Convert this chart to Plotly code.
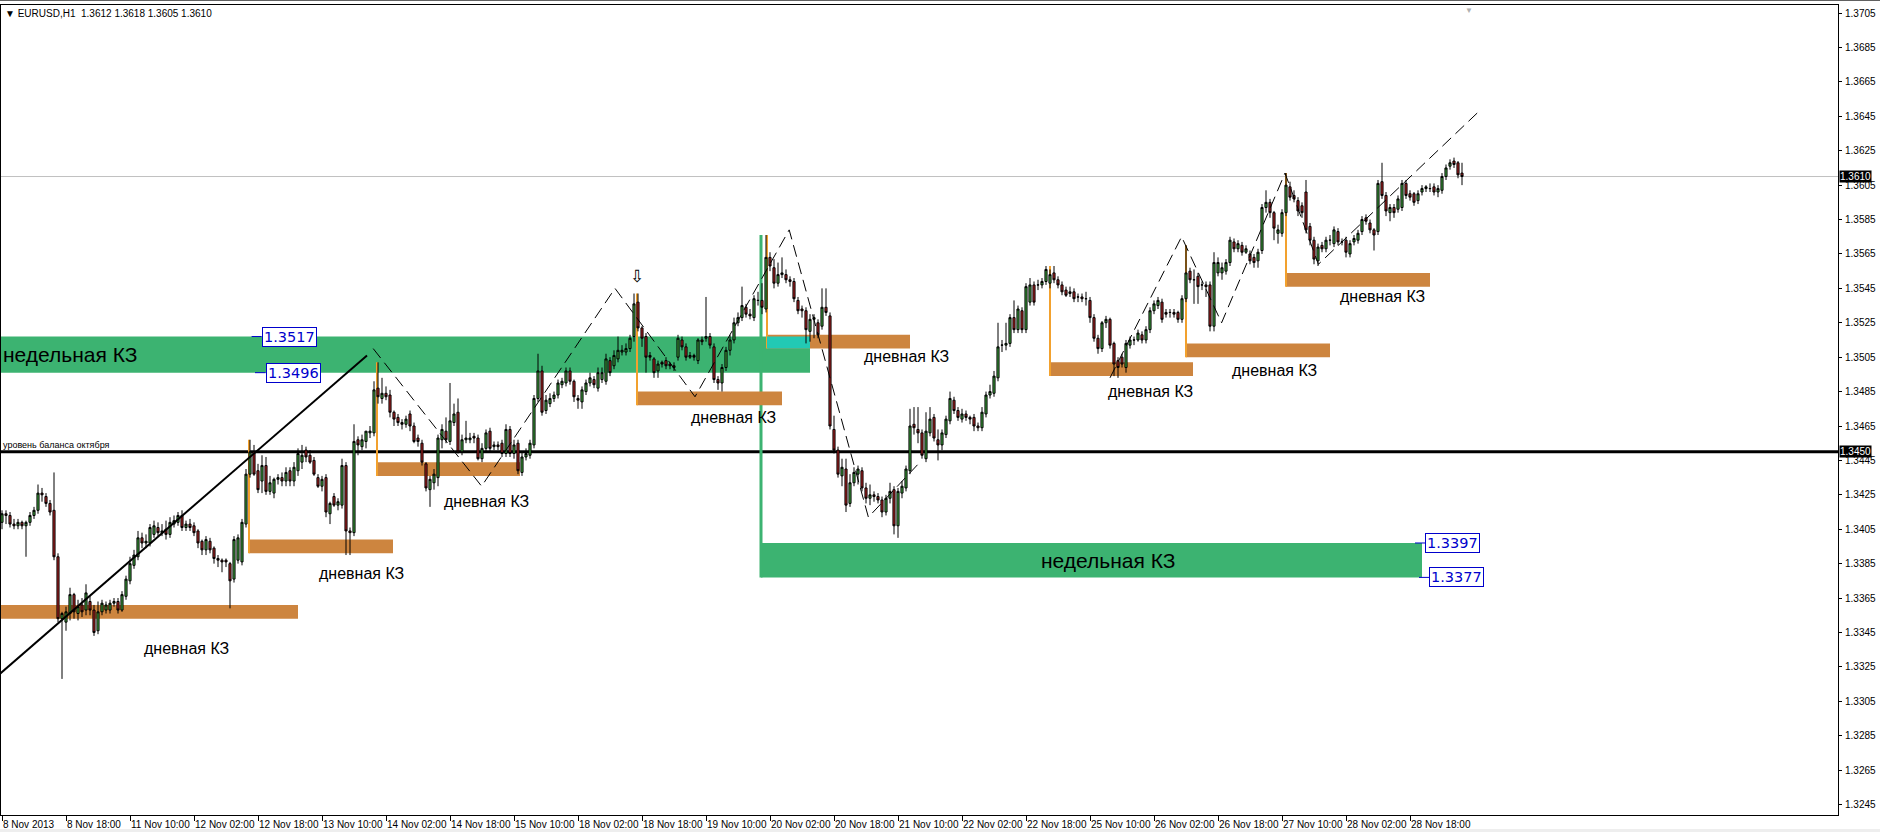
import plotly.graph_objects as go

# ---------------- data ----------------
tick_labels = ["8 Nov 2013", "8 Nov 18:00", "11 Nov 10:00", "12 Nov 02:00", "12 Nov 18:00",
               "13 Nov 10:00", "14 Nov 02:00", "14 Nov 18:00", "15 Nov 10:00", "18 Nov 02:00",
               "18 Nov 18:00", "19 Nov 10:00", "20 Nov 02:00", "20 Nov 18:00", "21 Nov 10:00",
               "22 Nov 02:00", "22 Nov 18:00", "25 Nov 10:00", "26 Nov 02:00", "26 Nov 18:00",
               "27 Nov 10:00", "28 Nov 02:00", "28 Nov 18:00"]
bars_per_label = 16

price_ticks = ["1.3245", "1.3265", "1.3285", "1.3305", "1.3325", "1.3345", "1.3365", "1.3385",
               "1.3405", "1.3425", "1.3445", "1.3465", "1.3485", "1.3505", "1.3525", "1.3545",
               "1.3565", "1.3585", "1.3605", "1.3625", "1.3645", "1.3665", "1.3685", "1.3705"]

opens = [1.3409,1.3414,1.3413,1.3408,1.3407,1.3409,1.3407,1.3409,1.3413,1.3416,
1.3426,1.3424,1.3420,1.3416,1.3389,1.3353,1.3351,1.3356,1.3367,1.3356,
1.3361,1.3358,1.3363,1.3358,1.3346,1.3357,1.3358,1.3358,1.3362,1.3363,
1.3358,1.3366,1.3375,1.3384,1.3389,1.3400,1.3397,1.3397,1.3402,1.3406,
1.3403,1.3405,1.3402,1.3408,1.3409,1.3413,1.3406,1.3408,1.3407,1.3404,
1.3398,1.3393,1.3398,1.3394,1.3388,1.3387,1.3387,1.3385,1.3376,1.3387,
1.3386,1.3408,1.3437,1.3450,1.3439,1.3433,1.3442,1.3427,1.3426,1.3434,
1.3435,1.3433,1.3439,1.3433,1.3439,1.3444,1.3451,1.3448,1.3445,1.3435,
1.3430,1.3435,1.3414,1.3424,1.3419,1.3419,1.3442,1.3404,1.3403,1.3457,
1.3453,1.3456,1.3461,1.3461,1.3487,1.3481,1.3484,1.3483,1.3473,1.3470,
1.3467,1.3466,1.3472,1.3465,1.3458,1.3455,1.3443,1.3428,1.3432,1.3435,
1.3457,1.3462,1.3456,1.3467,1.3473,1.3450,1.3457,1.3457,1.3459,1.3458,
1.3446,1.3452,1.3462,1.3453,1.3454,1.3455,1.3449,1.3463,1.3449,1.3455,
1.3438,1.3447,1.3448,1.3454,1.3481,1.3497,1.3474,1.3478,1.3481,1.3483,
1.3489,1.3490,1.3497,1.3491,1.3481,1.3479,1.3485,1.3490,1.3492,1.3487,
1.3492,1.3491,1.3503,1.3500,1.3504,1.3508,1.3508,1.3510,1.3517,1.3537,
1.3522,1.3517,1.3506,1.3504,1.3497,1.3502,1.3503,1.3501,1.3500,1.3505,
1.3515,1.3511,1.3505,1.3506,1.3503,1.3515,1.3516,1.3517,1.3511,1.3492,
1.3490,1.3499,1.3509,1.3515,1.3525,1.3528,1.3534,1.3530,1.3528,1.3538,
1.3538,1.3533,1.3563,1.3557,1.3548,1.3553,1.3553,1.3550,1.3549,1.3538,
1.3533,1.3532,1.3520,1.3527,1.3525,1.3523,1.3534,1.3529,1.3463,1.3451,
1.3436,1.3440,1.3420,1.3432,1.3437,1.3439,1.3429,1.3423,1.3425,1.3424,
1.3422,1.3415,1.3423,1.3428,1.3407,1.3426,1.3429,1.3439,1.3466,1.3463,
1.3461,1.3446,1.3461,1.3470,1.3457,1.3454,1.3460,1.3468,1.3480,1.3474,
1.3469,1.3472,1.3470,1.3470,1.3465,1.3464,1.3472,1.3483,1.3484,1.3493,
1.3512,1.3512,1.3513,1.3528,1.3521,1.3532,1.3521,1.3537,1.3547,1.3547,
1.3547,1.3549,1.3548,1.3554,1.3550,1.3547,1.3544,1.3542,1.3543,1.3540,
1.3540,1.3539,1.3538,1.3528,1.3516,1.3510,1.3525,1.3527,1.3513,1.3503,
1.3505,1.3499,1.3512,1.3515,1.3515,1.3518,1.3515,1.3521,1.3532,1.3535,
1.3537,1.3531,1.3531,1.3531,1.3531,1.3527,1.3539,1.3555,1.3550,1.3552,
1.3547,1.3547,1.3547,1.3523,1.3554,1.3554,1.3555,1.3560,1.3572,1.3568,
1.3570,1.3566,1.3565,1.3563,1.3561,1.3567,1.3592,1.3595,1.3589,1.3577,
1.3577,1.3589,1.3604,1.3599,1.3596,1.3593,1.3601,1.3581,1.3573,1.3561,
1.3570,1.3568,1.3573,1.3571,1.3578,1.3572,1.3573,1.3565,1.3572,1.3573,
1.3578,1.3586,1.3583,1.3579,1.3578,1.3607,1.3599,1.3589,1.3592,1.3591,
1.3592,1.3606,1.3600,1.3600,1.3596,1.3601,1.3603,1.3603,1.3604,1.3601,
1.3602,1.3610,1.3616,1.3619,1.3618,1.3612]

highs = [1.3416,1.3416,1.3415,1.3411,1.3411,1.3410,1.3410,1.3415,1.3418,1.3431,
1.3429,1.3426,1.3422,1.3438,1.3391,1.3357,1.3360,1.3371,1.3368,1.3364,
1.3365,1.3373,1.3366,1.3361,1.3363,1.3364,1.3363,1.3364,1.3365,1.3365,
1.3369,1.3378,1.3389,1.3393,1.3404,1.3403,1.3402,1.3408,1.3410,1.3409,
1.3408,1.3410,1.3412,1.3413,1.3415,1.3416,1.3410,1.3411,1.3409,1.3405,
1.3399,1.3401,1.3400,1.3395,1.3390,1.3388,1.3388,1.3386,1.3401,1.3402,
1.3411,1.3440,1.3457,1.3454,1.3443,1.3448,1.3447,1.3436,1.3435,1.3437,
1.3438,1.3441,1.3441,1.3444,1.3452,1.3454,1.3453,1.3451,1.3447,1.3437,
1.3436,1.3437,1.3421,1.3426,1.3423,1.3446,1.3444,1.3406,1.3466,1.3459,
1.3460,1.3462,1.3465,1.3491,1.3502,1.3493,1.3488,1.3486,1.3474,1.3472,
1.3469,1.3471,1.3474,1.3467,1.3460,1.3457,1.3444,1.3436,1.3440,1.3460,
1.3466,1.3470,1.3490,1.3478,1.3481,1.3460,1.3468,1.3461,1.3461,1.3460,
1.3455,1.3463,1.3464,1.3456,1.3456,1.3457,1.3466,1.3465,1.3457,1.3457,
1.3450,1.3452,1.3457,1.3483,1.3507,1.3500,1.3483,1.3484,1.3485,1.3492,
1.3493,1.3499,1.3499,1.3492,1.3483,1.3488,1.3492,1.3496,1.3494,1.3499,
1.3499,1.3507,1.3505,1.3509,1.3517,1.3512,1.3513,1.3518,1.3542,1.3542,
1.3523,1.3519,1.3508,1.3505,1.3503,1.3503,1.3505,1.3502,1.3502,1.3518,
1.3517,1.3513,1.3508,1.3507,1.3516,1.3517,1.3540,1.3519,1.3513,1.3494,
1.3501,1.3511,1.3518,1.3528,1.3531,1.3546,1.3536,1.3533,1.3541,1.3543,
1.3548,1.3576,1.3566,1.3562,1.3560,1.3563,1.3556,1.3552,1.3551,1.3540,
1.3535,1.3534,1.3530,1.3530,1.3527,1.3545,1.3545,1.3531,1.3471,1.3453,
1.3446,1.3446,1.3437,1.3441,1.3442,1.3441,1.3432,1.3431,1.3427,1.3426,
1.3424,1.3425,1.3432,1.3430,1.3429,1.3433,1.3442,1.3475,1.3476,1.3476,
1.3463,1.3473,1.3476,1.3472,1.3463,1.3463,1.3471,1.3485,1.3482,1.3476,
1.3475,1.3474,1.3471,1.3472,1.3467,1.3476,1.3485,1.3489,1.3497,1.3525,
1.3515,1.3525,1.3530,1.3538,1.3535,1.3534,1.3548,1.3551,1.3549,1.3550,
1.3551,1.3558,1.3556,1.3558,1.3552,1.3549,1.3546,1.3546,1.3545,1.3542,
1.3542,1.3543,1.3540,1.3530,1.3518,1.3526,1.3529,1.3528,1.3514,1.3505,
1.3507,1.3515,1.3517,1.3517,1.3521,1.3520,1.3523,1.3534,1.3538,1.3540,
1.3539,1.3533,1.3533,1.3533,1.3532,1.3541,1.3570,1.3557,1.3556,1.3554,
1.3549,1.3549,1.3549,1.3566,1.3563,1.3560,1.3562,1.3575,1.3574,1.3573,
1.3572,1.3570,1.3567,1.3565,1.3568,1.3594,1.3602,1.3597,1.3590,1.3582,
1.3591,1.3612,1.3607,1.3602,1.3598,1.3595,1.3608,1.3583,1.3575,1.3571,
1.3572,1.3575,1.3576,1.3581,1.3580,1.3574,1.3575,1.3573,1.3576,1.3579,
1.3587,1.3588,1.3585,1.3580,1.3608,1.3618,1.3601,1.3594,1.3594,1.3599,
1.3608,1.3608,1.3602,1.3601,1.3602,1.3605,1.3605,1.3606,1.3606,1.3605,
1.3612,1.3617,1.3620,1.3621,1.3619,1.3618]

lows = [1.3405,1.3408,1.3406,1.3405,1.3405,1.3405,1.3389,1.3407,1.3411,1.3414,
1.3421,1.3418,1.3413,1.3387,1.3351,1.3318,1.3346,1.3352,1.3353,1.3352,
1.3354,1.3355,1.3355,1.3343,1.3344,1.3355,1.3356,1.3356,1.3360,1.3356,
1.3357,1.3364,1.3373,1.3382,1.3387,1.3394,1.3394,1.3395,1.3400,1.3401,
1.3401,1.3399,1.3400,1.3406,1.3407,1.3404,1.3404,1.3404,1.3401,1.3394,
1.3390,1.3390,1.3391,1.3385,1.3383,1.3380,1.3383,1.3359,1.3374,1.3385,
1.3384,1.3406,1.3435,1.3436,1.3426,1.3426,1.3425,1.3425,1.3423,1.3431,
1.3430,1.3430,1.3430,1.3430,1.3436,1.3440,1.3444,1.3443,1.3436,1.3429,
1.3427,1.3412,1.3408,1.3418,1.3416,1.3417,1.3390,1.3390,1.3401,1.3448,
1.3451,1.3452,1.3458,1.3459,1.3478,1.3478,1.3480,1.3470,1.3465,1.3465,
1.3463,1.3464,1.3462,1.3455,1.3453,1.3442,1.3427,1.3418,1.3428,1.3430,
1.3452,1.3455,1.3454,1.3465,1.3449,1.3448,1.3455,1.3455,1.3455,1.3445,
1.3444,1.3450,1.3450,1.3451,1.3451,1.3447,1.3447,1.3447,1.3446,1.3437,
1.3436,1.3445,1.3446,1.3452,1.3479,1.3471,1.3472,1.3476,1.3479,1.3481,
1.3487,1.3488,1.3489,1.3479,1.3475,1.3475,1.3483,1.3488,1.3487,1.3485,
1.3490,1.3489,1.3494,1.3498,1.3502,1.3506,1.3506,1.3508,1.3514,1.3520,
1.3511,1.3496,1.3503,1.3493,1.3493,1.3499,1.3498,1.3498,1.3497,1.3503,
1.3509,1.3503,1.3504,1.3503,1.3501,1.3512,1.3514,1.3510,1.3490,1.3486,
1.3485,1.3497,1.3506,1.3513,1.3523,1.3526,1.3528,1.3527,1.3526,1.3535,
1.3530,1.3531,1.3555,1.3545,1.3546,1.3551,1.3548,1.3546,1.3537,1.3530,
1.3528,1.3513,1.3514,1.3516,1.3516,1.3521,1.3529,1.3463,1.3449,1.3435,
1.3430,1.3415,1.3418,1.3430,1.3431,1.3427,1.3420,1.3419,1.3421,1.3420,
1.3412,1.3413,1.3420,1.3402,1.3400,1.3423,1.3427,1.3437,1.3460,1.3455,
1.3446,1.3444,1.3459,1.3456,1.3445,1.3451,1.3458,1.3466,1.3472,1.3468,
1.3467,1.3468,1.3466,1.3462,1.3462,1.3462,1.3470,1.3481,1.3482,1.3491,
1.3508,1.3509,1.3511,1.3519,1.3519,1.3519,1.3519,1.3535,1.3535,1.3544,
1.3545,1.3547,1.3545,1.3548,1.3545,1.3541,1.3540,1.3540,1.3537,1.3537,
1.3537,1.3535,1.3525,1.3514,1.3507,1.3508,1.3522,1.3510,1.3494,1.3493,
1.3499,1.3496,1.3510,1.3512,1.3514,1.3513,1.3513,1.3519,1.3530,1.3533,
1.3525,1.3528,1.3528,1.3528,1.3525,1.3525,1.3537,1.3548,1.3536,1.3536,
1.3544,1.3540,1.3520,1.3520,1.3552,1.3550,1.3553,1.3558,1.3566,1.3566,
1.3564,1.3565,1.3559,1.3557,1.3557,1.3565,1.3589,1.3586,1.3573,1.3571,
1.3575,1.3587,1.3596,1.3595,1.3587,1.3586,1.3577,1.3570,1.3559,1.3558,
1.3566,1.3566,1.3570,1.3569,1.3570,1.3570,1.3563,1.3563,1.3570,1.3571,
1.3576,1.3582,1.3577,1.3567,1.3576,1.3597,1.3587,1.3584,1.3586,1.3589,
1.3590,1.3597,1.3596,1.3593,1.3594,1.3599,1.3601,1.3601,1.3599,1.3598,
1.3600,1.3608,1.3614,1.3615,1.3609,1.3605]

closes = [1.3414,1.3413,1.3408,1.3407,1.3409,1.3407,1.3409,1.3413,1.3416,1.3426,
1.3425,1.3420,1.3415,1.3389,1.3353,1.3356,1.3357,1.3367,1.3357,1.3360,
1.3357,1.3368,1.3358,1.3345,1.3357,1.3362,1.3361,1.3362,1.3363,1.3358,
1.3367,1.3376,1.3385,1.3390,1.3400,1.3397,1.3398,1.3406,1.3407,1.3403,
1.3404,1.3402,1.3409,1.3410,1.3413,1.3406,1.3408,1.3406,1.3403,1.3397,
1.3393,1.3399,1.3393,1.3388,1.3387,1.3386,1.3386,1.3375,1.3399,1.3400,
1.3409,1.3437,1.3450,1.3437,1.3428,1.3442,1.3427,1.3432,1.3434,1.3435,
1.3433,1.3438,1.3433,1.3441,1.3449,1.3448,1.3447,1.3444,1.3437,1.3430,
1.3434,1.3415,1.3420,1.3419,1.3421,1.3442,1.3404,1.3403,1.3456,1.3454,
1.3457,1.3462,1.3462,1.3486,1.3482,1.3484,1.3482,1.3473,1.3469,1.3467,
1.3466,1.3469,1.3465,1.3456,1.3456,1.3444,1.3429,1.3434,1.3437,1.3458,
1.3463,1.3457,1.3468,1.3472,1.3450,1.3457,1.3458,1.3458,1.3458,1.3446,
1.3452,1.3461,1.3452,1.3454,1.3453,1.3449,1.3463,1.3449,1.3454,1.3439,
1.3447,1.3449,1.3455,1.3481,1.3497,1.3473,1.3480,1.3481,1.3483,1.3490,
1.3491,1.3497,1.3491,1.3482,1.3480,1.3486,1.3490,1.3493,1.3489,1.3496,
1.3496,1.3504,1.3496,1.3506,1.3509,1.3509,1.3510,1.3516,1.3536,1.3522,
1.3516,1.3505,1.3505,1.3496,1.3501,1.3501,1.3500,1.3500,1.3499,1.3516,
1.3511,1.3505,1.3506,1.3505,1.3515,1.3514,1.3517,1.3512,1.3492,1.3490,
1.3499,1.3509,1.3515,1.3525,1.3528,1.3535,1.3530,1.3529,1.3539,1.3538,
1.3534,1.3563,1.3558,1.3548,1.3553,1.3554,1.3550,1.3549,1.3539,1.3532,
1.3532,1.3521,1.3527,1.3528,1.3518,1.3534,1.3531,1.3465,1.3451,1.3437,
1.3441,1.3419,1.3432,1.3438,1.3440,1.3429,1.3423,1.3425,1.3424,1.3422,
1.3415,1.3423,1.3427,1.3407,1.3427,1.3430,1.3440,1.3465,1.3464,1.3461,
1.3448,1.3462,1.3469,1.3458,1.3454,1.3461,1.3469,1.3481,1.3474,1.3470,
1.3472,1.3470,1.3469,1.3465,1.3464,1.3473,1.3483,1.3485,1.3494,1.3511,
1.3512,1.3513,1.3528,1.3521,1.3533,1.3521,1.3546,1.3547,1.3537,1.3547,
1.3549,1.3556,1.3553,1.3550,1.3547,1.3543,1.3541,1.3543,1.3539,1.3540,
1.3539,1.3539,1.3528,1.3516,1.3510,1.3525,1.3527,1.3512,1.3501,1.3499,
1.3501,1.3513,1.3515,1.3515,1.3519,1.3515,1.3521,1.3532,1.3536,1.3538,
1.3527,1.3530,1.3531,1.3530,1.3527,1.3539,1.3554,1.3550,1.3550,1.3546,
1.3547,1.3546,1.3523,1.3560,1.3560,1.3557,1.3560,1.3573,1.3568,1.3571,
1.3566,1.3568,1.3561,1.3560,1.3566,1.3592,1.3595,1.3589,1.3580,1.3579,
1.3589,1.3605,1.3598,1.3597,1.3590,1.3589,1.3579,1.3573,1.3562,1.3569,
1.3568,1.3573,1.3573,1.3579,1.3572,1.3572,1.3566,1.3571,1.3574,1.3577,
1.3585,1.3584,1.3579,1.3576,1.3606,1.3599,1.3590,1.3592,1.3589,1.3597,
1.3606,1.3599,1.3598,1.3595,1.3600,1.3603,1.3604,1.3603,1.3601,1.3603,
1.3610,1.3615,1.3618,1.3617,1.3611,1.3610]

# weekly zones (bar index span, price span)
weekly_start = [-1.0, 189.75]
weekly_end = [202.0, 355.0]
weekly_top = [1.3517, 1.3397]
weekly_bottom = [1.3496, 1.3377]
weekly_marker_top = [None, 1.3576]
weekly_text = ["недельная КЗ", "недельная КЗ"]

# daily zones
daily_start = [-1.0, 61.75, 93.75, 158.75, 191.25, 262.0, 296.0, 321.0]
daily_end = [74.0, 97.75, 129.5, 195.0, 227.0, 297.75, 332.0, 357.0]
daily_top = [1.3361, 1.3399, 1.3444, 1.3485, 1.3518, 1.3502, 1.3513, 1.3554]
daily_bottom = [1.3353, 1.3391, 1.3436, 1.3477, 1.3510, 1.3494, 1.3505, 1.3546]
daily_marker_top = [None, 1.3457, 1.3502, 1.3542, 1.3576, 1.3558, 1.3570, 1.3612]
daily_label_x = [46.0, 89.75, 121.0, 182.75, 226.0, 287.0, 318.0, 345.0]
daily_label_y = [1.33359, 1.33795, 1.34213, 1.34702, 1.35053, 1.34850, 1.34975, 1.35402]

# price label objects
label_prices = [1.3517, 1.3496, 1.3397, 1.3377]
label_box_x = [64.9, 65.9, 355.75, 356.8]
label_stub_x = [62.4, 63.25, 353.25, 354.25]

# trend line and zigzags
trend_x = [-0.5, 91.25]
trend_y = [1.3321, 1.3506]
zigzag1_x = [92.8, 119.9, 153.25, 173.25, 196.8, 216.6, 229.9]
zigzag1_y = [1.3510, 1.3430, 1.3545, 1.3482, 1.3579, 1.3412, 1.3445]
zigzag2_x = [277.0, 294.9, 304.9, 320.75, 329.1, 369.75]
zigzag2_y = [1.3493, 1.3575, 1.3525, 1.3612, 1.3559, 1.3649]

balance_level = 1.3450
bid_price = 1.3610
arrow_x, arrow_y = 158.75, 1.3552
header = "▼ EURUSD,H1\u00a0\u00a01.3612 1.3618 1.3605 1.3610"

# ---------------- figure ----------------
n = min(len(opens), len(highs), len(lows), len(closes))
bar_index = list(range(n))

GREEN = "#3CB371"
ORANGE = "#CD853F"
ORANGE_LINE = "#F2A12E"
CYAN = "#22C9B4"
BLUE = "#0000CC"
FONT = "Liberation Sans, Arial, sans-serif"

fig = go.Figure()
fig.add_trace(go.Candlestick(
    x=bar_index, open=opens[:n], high=highs[:n], low=lows[:n], close=closes[:n],
    increasing=dict(line=dict(color="black", width=1), fillcolor="#3FA83F"),
    decreasing=dict(line=dict(color="black", width=1), fillcolor="#B22222"),
    whiskerwidth=0, hoverinfo="skip", showlegend=False))

fig.add_trace(go.Scatter(x=trend_x, y=trend_y, mode="lines",
                         line=dict(color="black", width=2), hoverinfo="skip", showlegend=False))
for zx, zy in [(zigzag1_x, zigzag1_y), (zigzag2_x, zigzag2_y)]:
    fig.add_trace(go.Scatter(x=zx, y=zy, mode="lines",
                             line=dict(color="black", width=1, dash="12px,6px"),
                             hoverinfo="skip", showlegend=False))

shapes = []
annotations = []

# level lines
shapes.append(dict(type="line", xref="paper", yref="y", x0=0, x1=1, y0=bid_price, y1=bid_price,
                   line=dict(color="#C0C0C0", width=1), layer="below"))
shapes.append(dict(type="line", xref="paper", yref="y", x0=0, x1=1, y0=balance_level, y1=balance_level,
                   line=dict(color="black", width=3), layer="below"))

# weekly zones
for s, e, t, b, mt in zip(weekly_start, weekly_end, weekly_top, weekly_bottom, weekly_marker_top):
    shapes.append(dict(type="rect", xref="x", yref="y", x0=s, x1=e, y0=b, y1=t,
                       fillcolor=GREEN, line=dict(width=0), layer="below"))
    if mt is not None:
        shapes.append(dict(type="line", xref="x", yref="y", x0=s, x1=s, y0=mt, y1=b,
                           line=dict(color=GREEN, width=3), layer="below"))

# daily zones
for s, e, t, b, mt in zip(daily_start, daily_end, daily_top, daily_bottom, daily_marker_top):
    shapes.append(dict(type="rect", xref="x", yref="y", x0=s, x1=e, y0=b, y1=t,
                       fillcolor=ORANGE, line=dict(width=0), layer="below"))
    if mt is not None:
        shapes.append(dict(type="line", xref="x", yref="y", x0=s, x1=s, y0=mt, y1=b,
                           line=dict(color=ORANGE_LINE, width=2), layer="below"))
    for ws, we, wt, wb in zip(weekly_start, weekly_end, weekly_top, weekly_bottom):
        ox0, ox1 = max(s, ws), min(e, we)
        oy0, oy1 = max(b, wb), min(t, wt)
        if ox1 > ox0 and oy1 > oy0:
            shapes.append(dict(type="rect", xref="x", yref="y", x0=ox0, x1=ox1, y0=oy0, y1=oy1,
                               fillcolor=CYAN, line=dict(width=0), layer="below"))

for lx, ly in zip(daily_label_x, daily_label_y):
    annotations.append(dict(x=lx, y=ly, xref="x", yref="y", text="дневная КЗ", showarrow=False,
                            font=dict(family=FONT, size=16, color="black"),
                            xanchor="center", yanchor="middle"))

# weekly texts
annotations.append(dict(x=-0.25, y=(weekly_top[0] + weekly_bottom[0]) / 2, xref="x", yref="y",
                        text=weekly_text[0], showarrow=False, xanchor="left", yanchor="middle",
                        font=dict(family=FONT, size=21, color="black")))
annotations.append(dict(x=276.5, y=(weekly_top[1] + weekly_bottom[1]) / 2, xref="x", yref="y",
                        text=weekly_text[1], showarrow=False, xanchor="center", yanchor="middle",
                        font=dict(family=FONT, size=21, color="black")))

# price labels
for p, bx, sx in zip(label_prices, label_box_x, label_stub_x):
    shapes.append(dict(type="line", xref="x", yref="y", x0=sx, x1=bx, y0=p, y1=p,
                       line=dict(color=BLUE, width=1), layer="above"))
    annotations.append(dict(x=bx, y=p, xref="x", yref="y", text=f"{p:.4f}", showarrow=False,
                            xanchor="left", yanchor="middle", bgcolor="white", bordercolor=BLUE,
                            borderwidth=1, borderpad=1,
                            font=dict(family="DejaVu Sans, sans-serif", size=14.5, color=BLUE)))

# balance text
annotations.append(dict(x=-0.25, y=balance_level, xref="x", yref="y", text="уровень баланса октября",
                        showarrow=False, xanchor="left", yanchor="bottom", yshift=0,
                        font=dict(family=FONT, size=9, color="black")))

# arrow
annotations.append(dict(x=arrow_x, y=arrow_y, xref="x", yref="y", text="⇩", showarrow=False,
                        font=dict(family="DejaVu Sans, sans-serif", size=17, color="black"),
                        xanchor="center", yanchor="middle"))

# axis price boxes
for p in [bid_price, balance_level]:
    annotations.append(dict(x=1, y=p, xref="paper", yref="y", text=f"{p:.4f}", showarrow=False,
                            xanchor="left", yanchor="middle", xshift=1, bgcolor="black",
                            borderpad=0, font=dict(family=FONT, size=10, color="white")))

# header
annotations.append(dict(x=0, y=1, xref="paper", yref="paper", text=header, showarrow=False,
                        xanchor="left", yanchor="top", xshift=2, yshift=-1,
                        font=dict(family=FONT, size=10, color="black")))
# chart-shift marker
annotations.append(dict(x=0.7991, y=1, xref="paper", yref="paper", text="▼", showarrow=False,
                        xanchor="center", yanchor="top", yshift=1,
                        font=dict(family=FONT, size=8, color="#B0B0B0")))

# window frame decorations
shapes.append(dict(type="rect", xref="paper", yref="paper", x0=-0.01, x1=1.03, y0=1.0049, y1=1.0065,
                   fillcolor="#606060", line=dict(width=0), layer="above"))
shapes.append(dict(type="rect", xref="paper", yref="paper", x0=-0.01, x1=1.03, y0=-0.0215, y1=-0.0173,
                   fillcolor="#EEEEEE", line=dict(width=0), layer="above"))

fig.update_layout(
    width=1880, height=832,
    margin=dict(l=1, r=42, t=5, b=17, autoexpand=False),
    paper_bgcolor="white", plot_bgcolor="white",
    font=dict(family=FONT, size=10, color="black"),
    shapes=shapes, annotations=annotations,
    showlegend=False, boxgap=0.25, hovermode=False,
    xaxis=dict(range=[-0.25, 459.0], rangeslider=dict(visible=False),
               tickvals=[k * bars_per_label for k in range(len(tick_labels))], ticktext=tick_labels,
               tickangle=0, automargin=False,
               ticks="outside", ticklen=5, tickcolor="black", ticklabelposition="outside right",
               tickfont=dict(family=FONT, size=10, color="black"),
               showline=True, mirror=True, linecolor="black", linewidth=1,
               showgrid=False, zeroline=False, fixedrange=True),
    yaxis=dict(range=[1.32389, 1.37097], side="right", automargin=False,
               tickvals=[float(t) for t in price_ticks], ticktext=price_ticks,
               ticks="outside", ticklen=3, tickcolor="black", ticklabelstandoff=1,
               tickfont=dict(family=FONT, size=10, color="black"),
               showline=True, mirror=True, linecolor="black", linewidth=1,
               showgrid=False, zeroline=False, fixedrange=True),
)

fig.write_html("out.html", config={"displayModeBar": False, "staticPlot": True},
               post_script="document.body.style.margin='0px';document.body.style.padding='0px';")
